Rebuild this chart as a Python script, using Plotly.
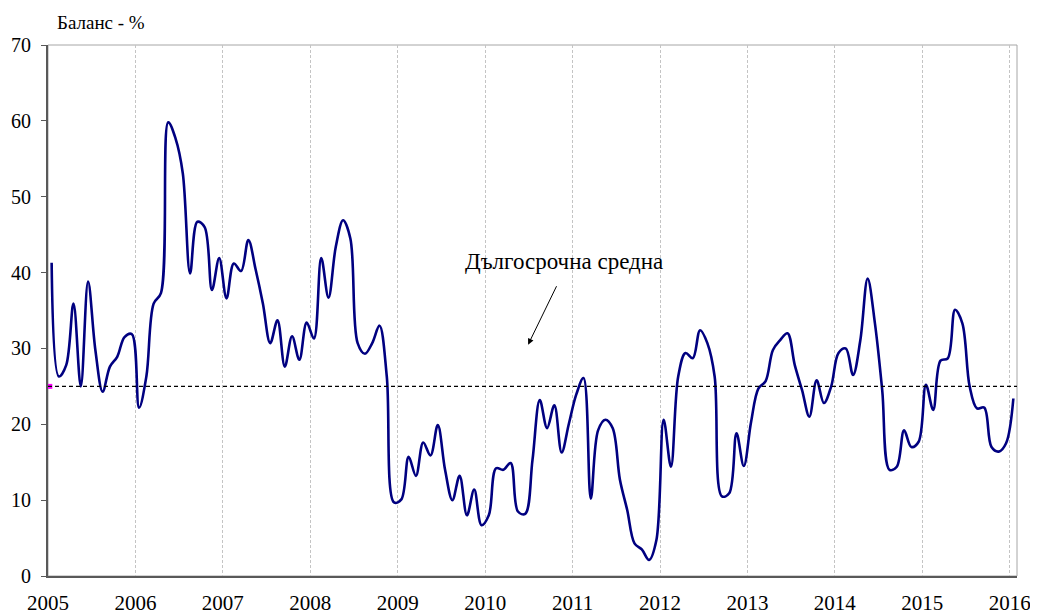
import numpy as np
import plotly.graph_objects as go

# monthly balance, Jan 2005 .. Jan 2016
balance = [
    # 2005
    41.3, 26.3, 27.8, 35.9, 25.0, 38.8, 29.8, 24.3, 27.6, 28.9, 31.5, 31.9,
    # 2006
    22.2, 26.3, 35.9, 37.3, 59.8, 57.7, 53.1, 39.9, 46.7, 46.0, 37.7, 41.9,
    # 2007
    36.6, 41.2, 40.2, 44.3, 40.4, 35.9, 30.7, 33.7, 27.6, 31.6, 28.5, 33.4,
    # 2008
    31.3, 41.9, 36.7, 43.4, 46.9, 44.5, 30.7, 29.3, 30.7, 33.0, 26.3, 9.7,
    # 2009
    10.1, 15.7, 13.2, 17.6, 15.9, 19.9, 14.0, 10.0, 13.2, 8.0, 11.4, 6.7,
    # 2010
    8.0, 14.2, 14.0, 14.9, 8.5, 8.2, 15.3, 23.2, 19.5, 22.5, 16.3, 20.1,
    # 2011
    23.9, 26.1, 10.2, 19.2, 20.6, 19.5, 12.7, 8.7, 4.3, 3.5, 2.1, 4.7,
    # 2012
    20.6, 14.4, 26.3, 29.4, 28.7, 32.4, 30.7, 26.3, 10.5, 10.9, 18.8, 14.5,
    # 2013
    20.3, 24.7, 25.7, 29.8, 31.1, 32.0, 27.8, 24.5, 21.0, 25.8, 22.8, 25.0,
    # 2014
    29.4, 30.0, 26.5, 31.1, 39.2, 33.3, 24.5, 14.0, 14.4, 19.2, 17.0, 17.7,
    # 2015
    25.2, 21.9, 28.4, 28.7, 35.1, 33.3, 25.0, 22.1, 22.2, 17.0, 16.4, 17.5,
    # 2016
    23.4,
]
years = [str(y) for y in range(2005, 2017)]
long_term_mean = 25

FONT = "Liberation Serif, DejaVu Serif, Times New Roman, serif"

# each month sits in the middle of its category slot
month_pos = np.arange(len(balance)) + 0.5
year_ticks = [12 * k for k in range(len(years))]

fig = go.Figure()

fig.add_hline(y=long_term_mean, line=dict(color="black", width=1.2, dash="4px,3px"))

fig.add_trace(go.Scatter(
    x=month_pos, y=balance, mode="lines",
    line=dict(color="#000080", width=2.6, shape="spline", smoothing=1.0),
    showlegend=False, hoverinfo="x+y",
))
# marker of the mean series at the start
fig.add_trace(go.Scatter(
    x=[0.25], y=[long_term_mean], mode="markers",
    marker=dict(color="#ff00ff", size=5, symbol="square"),
    showlegend=False,
))

# frame (top/right light grey)
fig.add_shape(type="rect", xref="paper", yref="paper", x0=0, y0=0, x1=1, y1=1,
              line=dict(color="#a6a6a6", width=1), layer="below")

fig.add_annotation(x=70.8, y=41.4, text="Дългосрочна средна", showarrow=False,
                   font=dict(family=FONT, size=23, color="black"),
                   xanchor="center", yanchor="middle")
fig.add_annotation(x=65.9, y=30.5, ax=69.9, ay=38.4, axref="x", ayref="y",
                   text="", showarrow=True, arrowhead=2, arrowsize=1.2,
                   arrowwidth=1, arrowcolor="black")
fig.add_annotation(x=0.007, y=1.043, xref="paper", yref="paper",
                   text="Баланс - %", showarrow=False,
                   font=dict(family=FONT, size=19, color="black"),
                   xanchor="left", yanchor="middle")

fig.update_xaxes(
    range=[0, 133], tickvals=year_ticks, ticktext=years,
    showgrid=True, gridcolor="#c4c4c4", gridwidth=1, griddash="3px,2px",
    showline=True, linecolor="#595959", linewidth=2,
    ticks="", ticklabelstandoff=7, zeroline=False, automargin=False,
    tickfont=dict(family=FONT, size=21, color="black"),
)
fig.update_yaxes(
    range=[0, 70], dtick=10, showgrid=False, zeroline=False,
    showline=True, linecolor="#595959", linewidth=2, automargin=False,
    ticks="outside", ticklen=5, tickcolor="#595959", ticklabelstandoff=6,
    tickfont=dict(family=FONT, size=20, color="black"),
)
# page body keeps an 8px margin, so the figure is sized for that offset
fig.update_layout(
    width=1030, height=606,
    margin=dict(l=40, r=21, t=37, b=38),
    paper_bgcolor="white", plot_bgcolor="white",
    showlegend=False,
)

fig.write_html("out.html")
